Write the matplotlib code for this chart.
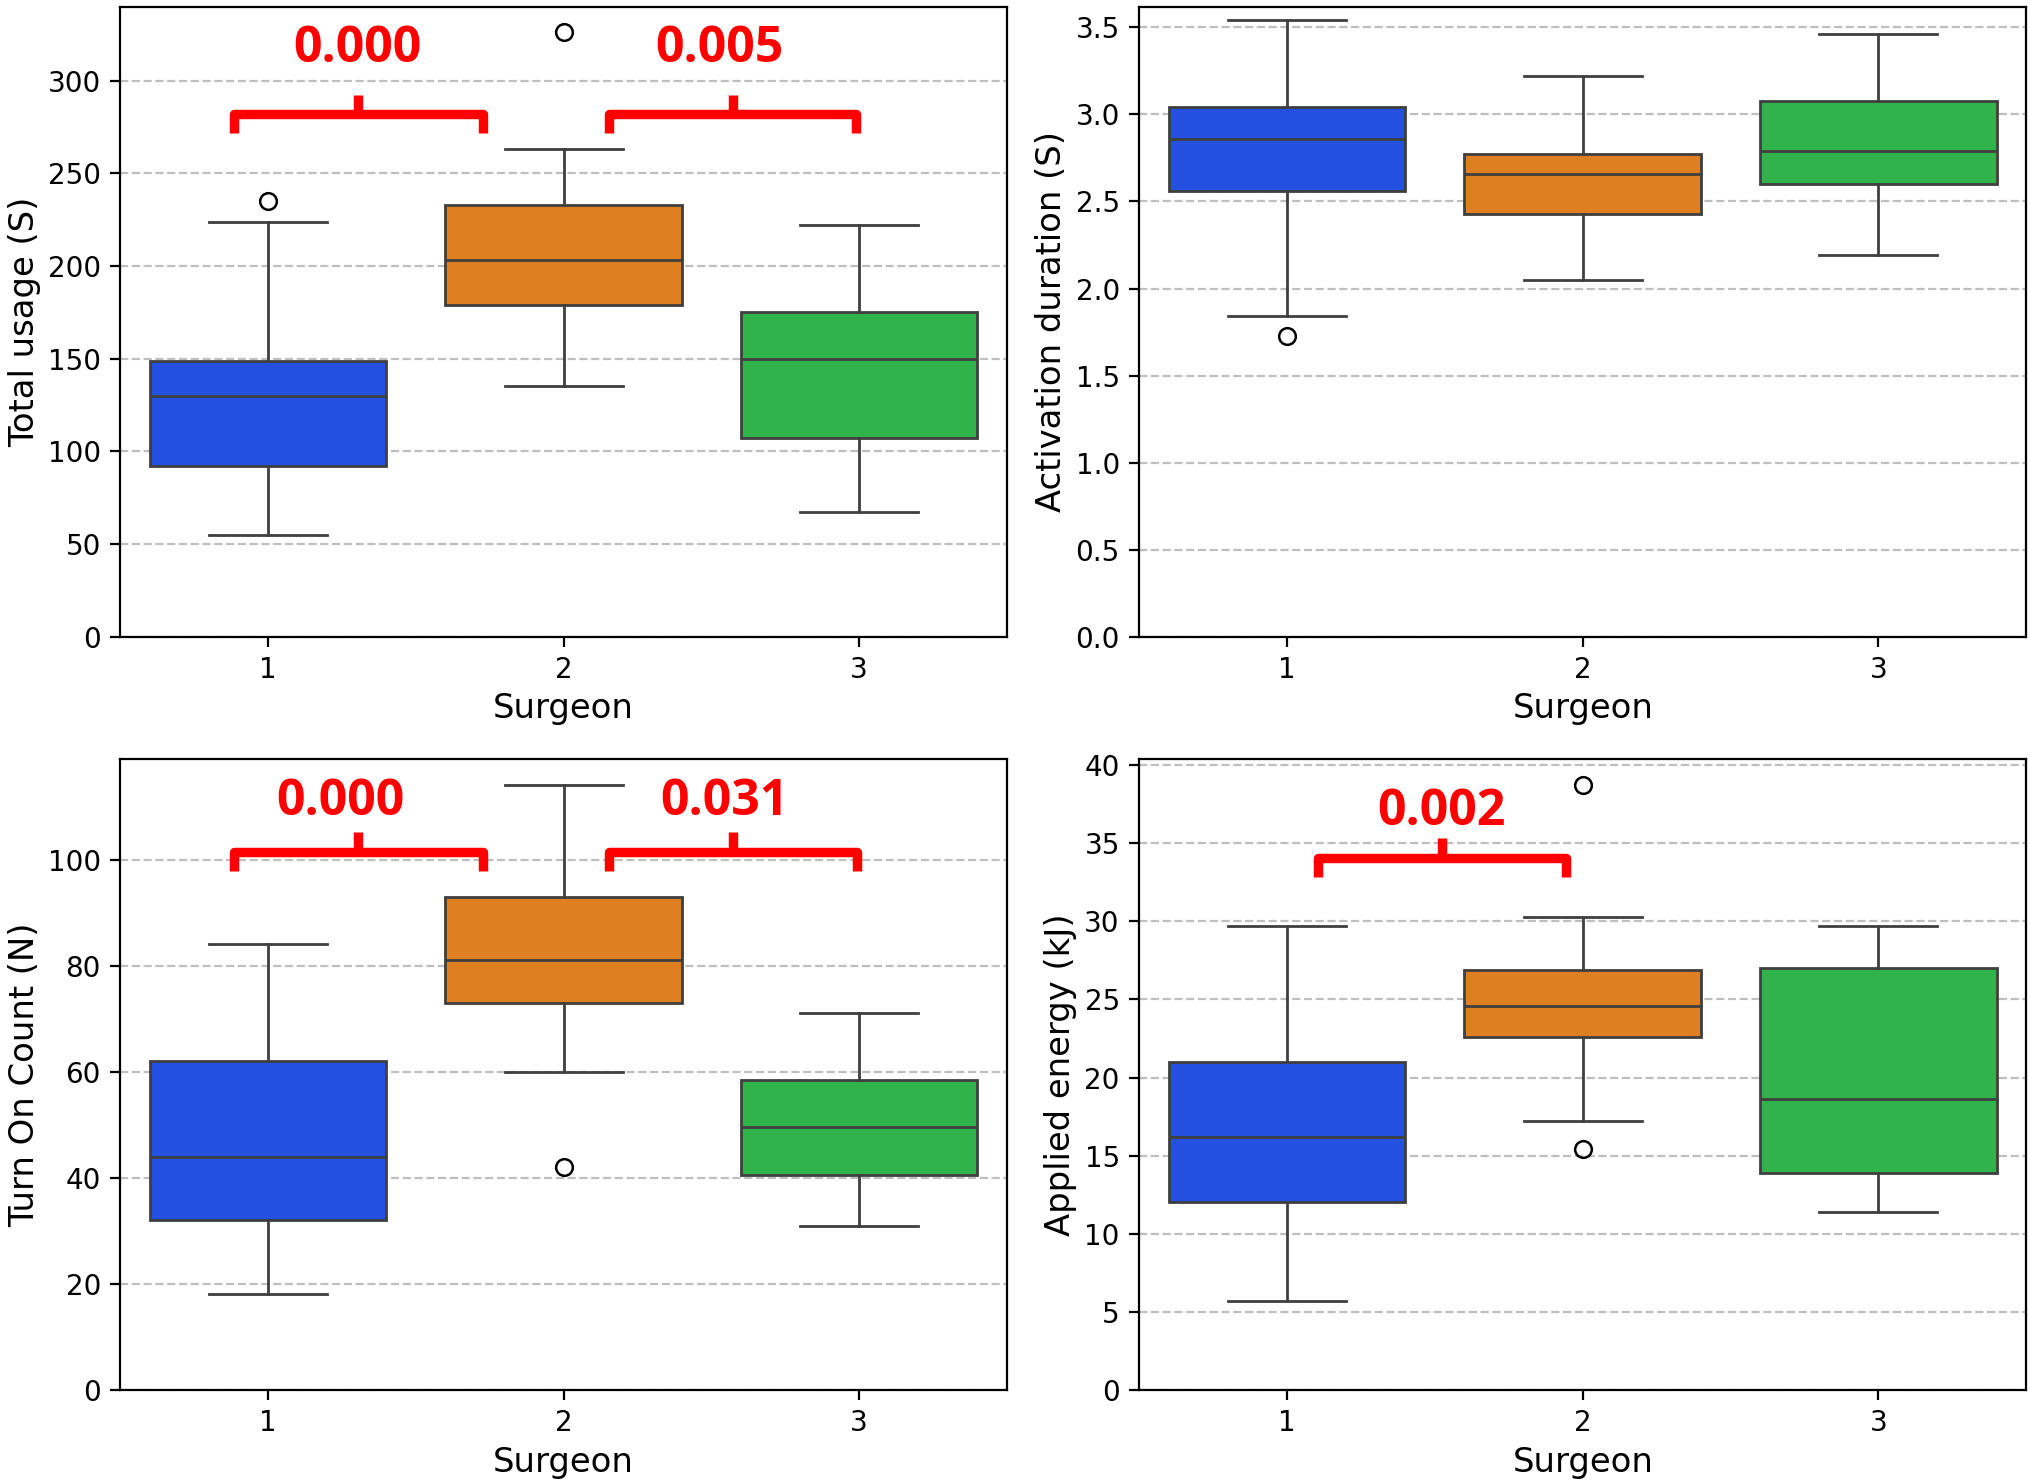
import numpy as np
import matplotlib.pyplot as plt

# surgeon categories
surgeons = ["1", "2", "3"]
colors = ["#2350E0", "#E07E22", "#2FB34A"]

# box statistics: whislo, q1, med, q3, whishi
usage_stats = [[55, 92, 130, 149, 224], [135, 179, 203, 233, 263], [67, 107, 150, 175, 222]]
usage_fliers = [[235], [326], []]

duration_stats = [[1.84, 2.56, 2.86, 3.04, 3.54], [2.05, 2.43, 2.66, 2.77, 3.22], [2.19, 2.60, 2.79, 3.08, 3.46]]
duration_fliers = [[1.73], [], []]

count_stats = [[18, 32, 44, 62, 84], [60, 73, 81, 93, 114], [31, 40.5, 49.5, 58.5, 71]]
count_fliers = [[], [42], []]

energy_stats = [[5.7, 12.0, 16.2, 21.0, 29.7], [17.2, 22.6, 24.6, 26.9, 30.3], [11.4, 13.9, 18.6, 27.0, 29.7]]
energy_fliers = [[], [15.4, 38.7], []]

# p-value brackets: (x_left, x_right, y_line, text_x, text_y, label)
usage_pvals = [(-0.117, 0.727, 281.8, 0.303, 317, "0.000"),
               (1.153, 1.990, 281.8, 1.526, 317, "0.005")]
count_pvals = [(-0.117, 0.727, 101.5, 0.246, 110.9, "0.000"),
               (1.152, 1.992, 101.5, 1.543, 110.9, "0.031")]
energy_pvals = [(0.104, 0.942, 34.05, 0.523, 37.0, "0.002")]

panels = [
    ("Total usage (S)", usage_stats, usage_fliers, (0, 340), np.arange(0, 301, 50), usage_pvals),
    ("Activation duration (S)", duration_stats, duration_fliers, (0, 3.62), np.arange(0, 3.51, 0.5), []),
    ("Turn On Count (N)", count_stats, count_fliers, (0, 119), np.arange(0, 101, 20), count_pvals),
    ("Applied energy (kJ)", energy_stats, energy_fliers, (0, 40.4), np.arange(0, 41, 5), energy_pvals),
]

fig = plt.figure(figsize=(10.15, 7.41), dpi=200)
positions = [
    [0.0593, 0.5704, 0.4367, 0.4252],
    [0.5612, 0.5704, 0.4369, 0.4252],
    [0.0593, 0.0621, 0.4367, 0.4259],
    [0.5612, 0.0621, 0.4369, 0.4259],
]

edge = "#3f3f3f"
for pos, (ylabel, stats, fliers, ylim, yticks, pvals) in zip(positions, panels):
    ax = fig.add_axes(pos)
    bxp_stats = []
    for s, f in zip(stats, fliers):
        bxp_stats.append(dict(whislo=s[0], q1=s[1], med=s[2], q3=s[3], whishi=s[4], fliers=f))
    bp = ax.bxp(bxp_stats, positions=[0, 1, 2], widths=0.8, patch_artist=True,
                boxprops=dict(edgecolor=edge, linewidth=1.0),
                medianprops=dict(color=edge, linewidth=1.0),
                whiskerprops=dict(color=edge, linewidth=1.0),
                capprops=dict(color=edge, linewidth=1.0),
                flierprops=dict(marker="o", markerfacecolor="none", markeredgecolor="black",
                                markersize=6, markeredgewidth=0.9),
                capwidths=0.4)
    for patch, c in zip(bp["boxes"], colors):
        patch.set_facecolor(c)
    ax.set_xlim(-0.5, 2.5)
    ax.set_ylim(*ylim)
    ax.set_yticks(yticks)
    ax.set_xticks([0, 1, 2])
    ax.set_xticklabels(surgeons)
    ax.tick_params(labelsize=10)
    ax.yaxis.grid(True, linestyle="--", color="#b0b0b0", alpha=0.8, linewidth=0.8)
    ax.set_axisbelow(True)
    ax.set_ylabel(ylabel, fontsize=12.2, labelpad=2.5)
    ax.set_xlabel("Surgeon", fontsize=12.2, labelpad=3)

    span = ylim[1] - ylim[0]
    for x0, x1, y, tx, ty, label in pvals:
        drop = span * 0.03
        notch = span * 0.031
        xm = (x0 + x1) / 2
        ax.plot([x0, x0, x1, x1], [y - drop, y, y, y - drop], color="red", lw=3.4,
                solid_joinstyle="round", solid_capstyle="butt", clip_on=False)
        ax.plot([xm, xm], [y, y + notch], color="red", lw=3.4, solid_capstyle="butt")
        ax.text(tx, ty, label, color="red", fontsize=18, fontweight="bold",
                family=["Open Sans", "DejaVu Sans"], ha="center", va="center")

fig.savefig("out.png", dpi=200)
